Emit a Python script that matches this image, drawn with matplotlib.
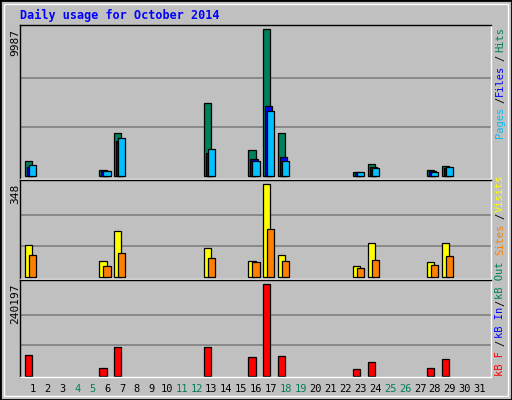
import matplotlib
matplotlib.use("Agg")
import matplotlib.pyplot as plt
import matplotlib.patches as mpatches
import numpy as np

DAYS = list(range(1, 32))
WEEKEND = [4, 5, 11, 12, 18, 19, 25, 26]

# day -> values (only days with traffic)
ACTIVE = [1, 6, 7, 13, 16, 17, 18, 23, 24, 28, 29]
HITS = [1020, 400, 2920, 4960, 1770, 9987, 2920, 270, 815, 400, 680]
FILES = [610, 340, 2380, 1560, 1150, 4750, 1290, 200, 610, 340, 540]
PAGES = [750, 340, 2580, 1830, 1020, 4420, 1020, 270, 540, 270, 610]
VISITS = [118, 58, 171, 107, 58, 348, 80, 39, 126, 54, 126]
SITES = [80, 39, 88, 69, 54, 178, 58, 31, 62, 43, 77]
KBF = [53470, 19290, 74520, 74520, 48210, 240197, 50840, 16660, 35070, 19290, 42950]

BG = "#C0C0C0"
GREEN = "#00805C"
BLUE = "#0000FF"
CYAN = "#00C0FF"
YELLOW = "#FFFF00"
ORANGE = "#FF8000"
RED = "#FF0000"
MONO = "DejaVu Sans Mono"

fig = plt.figure(figsize=(5.12, 4.0), dpi=100, facecolor=BG)
W, H = 512, 400
XMAX = 0.5 + 471 / 14.9


def rect(x0, y0, x1, y1):
    return [x0 / W, 1 - y1 / H, (x1 - x0) / W, (y1 - y0) / H]


def setup(ax, ymax, lo, hi):
    ax.set_facecolor(BG)
    ax.set_xlim(0.5, XMAX)
    ax.set_ylim(lo, hi)
    for g in (ymax / 3, 2 * ymax / 3):
        ax.axhline(g, color="#808080", lw=1.2, zorder=0)
    ax.set_xticks([]); ax.set_yticks([])
    for s in ax.spines.values():
        s.set_color("black"); s.set_linewidth(1.0)
    ax.spines["right"].set_color("white")
    ax.spines["bottom"].set_color("white")


x = np.array(ACTIVE, dtype=float) - 0.5
bw = 0.48
kw = dict(align="edge", edgecolor="black", linewidth=0.9)

ax1 = fig.add_axes(rect(20, 25, 491, 179))
setup(ax1, 9987, -204, 10259)
ax1.bar(x + 0.33, HITS, bw, color=GREEN, **kw)
ax1.bar(x + 0.46, FILES, bw, color=BLUE, **kw)
ax1.bar(x + 0.60, PAGES, bw, color=CYAN, **kw)

ax2 = fig.add_axes(rect(20, 180, 491, 279))
setup(ax2, 348, -9, 364)
ax2.bar(x + 0.33, VISITS, bw, color=YELLOW, **kw)
ax2.bar(x + 0.60, SITES, bw, color=ORANGE, **kw)

ax3 = fig.add_axes(rect(20, 280, 491, 377))
setup(ax3, 240197, -3400, 251500)
ax3.bar(x + 0.33, KBF, bw, color=RED, **kw)

# day labels
for d in DAYS:
    ax3.text(d + 0.35, -0.12, str(d), transform=ax3.get_xaxis_transform(),
             ha="center", va="center", fontsize=7.5, family=MONO,
             color=GREEN if d in WEEKEND else "black")

# max labels on the left
for txt, ytop in (("9987", 29), ("348", 184), ("240197", 284)):
    fig.text(15 / W, 1 - ytop / H, txt, rotation=90, ha="center", va="top",
             fontsize=8, family=MONO)

# right-hand legends
right = [("Hits", GREEN, 40), ("/", "black", 58), ("Files", BLUE, 80),
         ("/", "black", 100), ("Pages", CYAN, 122),
         ("Visits", YELLOW, 193), ("/", "black", 216), ("Sites", ORANGE, 239),
         ("kB Out", GREEN, 280), ("/", "black", 303), ("kB In", BLUE, 322),
         ("/", "black", 343), ("kB F", RED, 364)]
for txt, col, yc in right:
    fig.text(500 / W, 1 - yc / H, txt, rotation=90, ha="center", va="center",
             fontsize=7.5, family=MONO, color=col)

fig.text(20 / W, 1 - 15 / H, "Daily usage for October 2014", ha="left",
         va="center", fontsize=8.5, family=MONO, fontweight="bold", color=BLUE)

# outer frame
fig.patches.append(mpatches.Rectangle((0, 0), 1, 1, transform=fig.transFigure,
                                      fill=False, edgecolor="black", lw=2))
fig.patches.append(mpatches.Rectangle((4 / W, 4 / H), 1 - 8 / W, 1 - 8 / H,
                                      transform=fig.transFigure, fill=False,
                                      edgecolor="white", lw=1))

fig.savefig("out.png", dpi=100, facecolor=BG)
